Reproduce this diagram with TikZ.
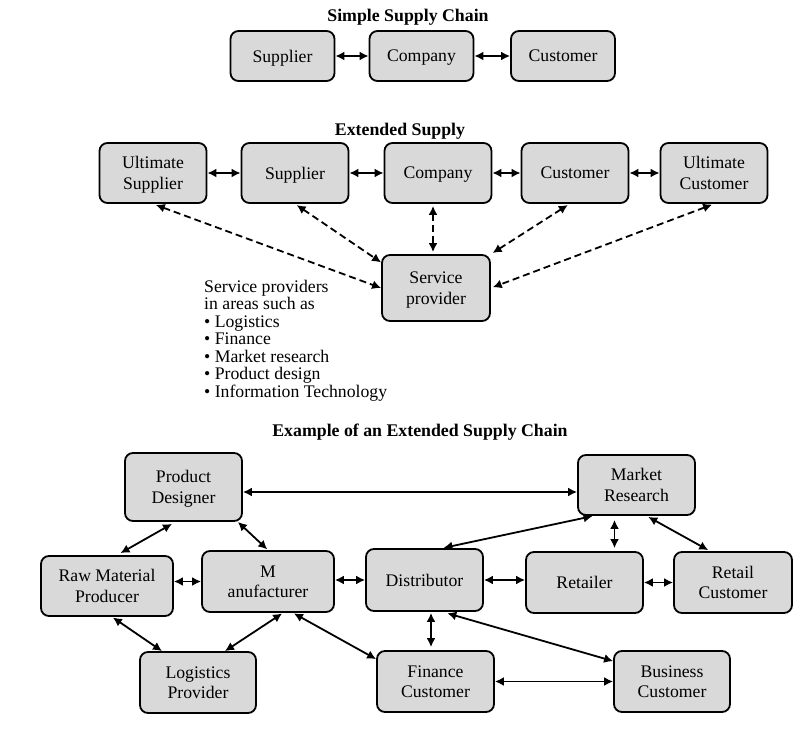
\documentclass[tikz,border=0pt]{standalone}
\usepackage{fontspec}
\setmainfont{Liberation Serif}
\usepackage{xcolor}
\usepackage{tikz}
\usetikzlibrary{arrows.meta, positioning, calc}
\definecolor{boxgray}{RGB}{217,217,217}

\begin{document}
\begin{tikzpicture}[
    x=1pt, y=-1pt,
    box/.style={draw, line width=1.8pt, rounded corners=8pt, fill=boxgray,
                align=center, inner sep=2pt, text depth=0pt,
                font=\fontsize{17.7}{20.5}\selectfont},
    heading/.style={font=\fontsize{17.8}{20}\selectfont\bfseries},
    arr/.style={{Latex[length=9pt,width=9pt]}-{Latex[length=9pt,width=9pt]},
                line width=1.8pt},
    darr/.style={arr, dash pattern=on 7pt off 4pt}
  ]
  \useasboundingbox (0,0) rectangle (802,730);
  % Simple supply chain
  \node[heading] (tS) at (408,17) {Simple Supply Chain};
  \foreach \n/\x/\content in {sSup/282.5/Supplier, sCom/421.5/Company,
                              sCus/563/Customer} {
    \node[box, minimum width=104pt, minimum height=50pt] (\n) at (\x,56) {\content};
  }
  \draw[arr] (sSup) -- (sCom);
  \draw[arr] (sCom) -- (sCus);
  % Extended supply
  \node[heading] (tE) at (400,131) {Extended Supply};
  \foreach \n/\x/\content in {eUS/153/{Ultimate\\Supplier}, eSup/295/Supplier,
                              eCom/438/Company, eCus/575/Customer,
                              eUC/714/{Ultimate\\Customer}} {
    \node[box, minimum width=107pt, minimum height=60pt] (\n) at (\x,173) {\content};
  }
  \foreach \a/\b in {eUS/eSup, eSup/eCom, eCom/eCus, eCus/eUC} {
    \draw[arr] (\a) -- (\b);
  }
  \node[box, minimum width=108pt, minimum height=66pt] (SP) at (436,288)
       {Service\\provider};
  \draw[darr, shorten <=3pt] (eUS.south) -- (SP.west);
  \draw[darr, shorten <=2pt] (eSup.south) -- (SP.155);
  \draw[darr, shorten <=2pt, shorten >=2pt] ([xshift=-5pt]eCom.south)
       -- ([xshift=-5pt]eCom.south |- SP.north);
  \draw[darr, shorten <=2pt, shorten >=2pt] (eCus.260) -- (SP.north east);
  \draw[darr, shorten <=2pt, shorten >=2pt] (eUC.south) -- (SP.east);
  \node[align=left, anchor=north west, inner sep=0pt,
        font=\fontsize{17.7}{17.5}\selectfont] (SPtxt) at (204,280)
       {Service providers\\in areas such as\\\textbullet{} Logistics\\
        \textbullet{} Finance\\\textbullet{} Market research\\
        \textbullet{} Product design\\\textbullet{} Information Technology};
  % Example of an extended supply chain
  \node[heading] (tX) at (420,432) {Example of an Extended Supply Chain};
  \node[box, minimum width=117pt, minimum height=68pt] (PD) at (183.5,487)
       {Product\\Designer};
  \node[box, minimum width=117pt, minimum height=60pt] (MR) at (636.5,485)
       {Market\\Research};
  \node[box, minimum width=132pt, minimum height=60pt] (RMP) at (107,586)
       {Raw Material\\Producer};
  \node[box, minimum width=132pt, minimum height=61pt] (Mf) at (268,581.5)
       {M\\anufacturer};
  \node[box, minimum width=117pt, minimum height=62pt] (Dist) at (424.5,580)
       {Distributor};
  \node[box, minimum width=117pt, minimum height=61pt] (Ret) at (584.5,582.5)
       {Retailer};
  \node[box, minimum width=118pt, minimum height=61pt] (RC) at (733,582.5)
       {Retail\\Customer};
  \node[box, minimum width=116pt, minimum height=61pt] (Log) at (198,682.5)
       {Logistics\\Provider};
  \node[box, minimum width=117pt, minimum height=61pt] (Fin) at (435.5,681.5)
       {Finance\\Customer};
  \node[box, minimum width=116pt, minimum height=61pt] (Bus) at (672,681.5)
       {Business\\Customer};
  % Links
  \draw[arr] ([yshift=-5pt]PD.east) -- ([yshift=-5pt]PD.east -| MR.west);
  \draw[arr, shorten <=4pt, shorten >=4pt] ([xshift=10pt]RMP.north)
       -- ([xshift=-8pt]PD.south);
  \draw[arr, shorten >=1pt] ([xshift=-5pt]PD.south east) -- (Mf.north);
  \draw[arr] (RMP.east |- Mf.west) -- (Mf.west);
  \draw[arr] (Mf.east |- Dist.west) -- (Dist.west);
  \draw[arr] (Dist.east) -- (Dist.east -| Ret.west);
  \draw[arr] (Ret) -- (RC);
  \draw[arr, shorten <=1pt, shorten >=1pt] ([xshift=-43pt]MR.south)
       -- ([xshift=18pt]Dist.north);
  \draw[arr, shorten <=4pt, shorten >=3pt] ([xshift=-22pt]MR.south)
       -- ([xshift=-22pt]MR.south |- Ret.north);
  \draw[arr, shorten <=2pt, shorten >=2pt] ([xshift=10pt]MR.south)
       -- ([xshift=-23pt]RC.north);
  \draw[arr, shorten <=1pt] ([xshift=5pt]RMP.south) -- ([xshift=-36pt]Log.north);
  \draw[arr, shorten <=1pt] ([xshift=15pt]Mf.south) -- ([xshift=27pt]Log.north);
  \draw[arr, shorten <=1pt] ([xshift=25pt]Mf.south) -- ([yshift=-9pt]Fin.north west);
  \draw[arr, shorten <=1pt, shorten >=3pt] ([xshift=6.5pt]Dist.south)
       -- ([xshift=6.5pt]Dist.south |- Fin.north);
  \draw[arr, shorten <=5pt] ([xshift=18pt]Dist.south) -- ([yshift=-11pt]Bus.north west);
  \draw[arr] (Fin) -- (Bus);
\end{tikzpicture}
\end{document}
